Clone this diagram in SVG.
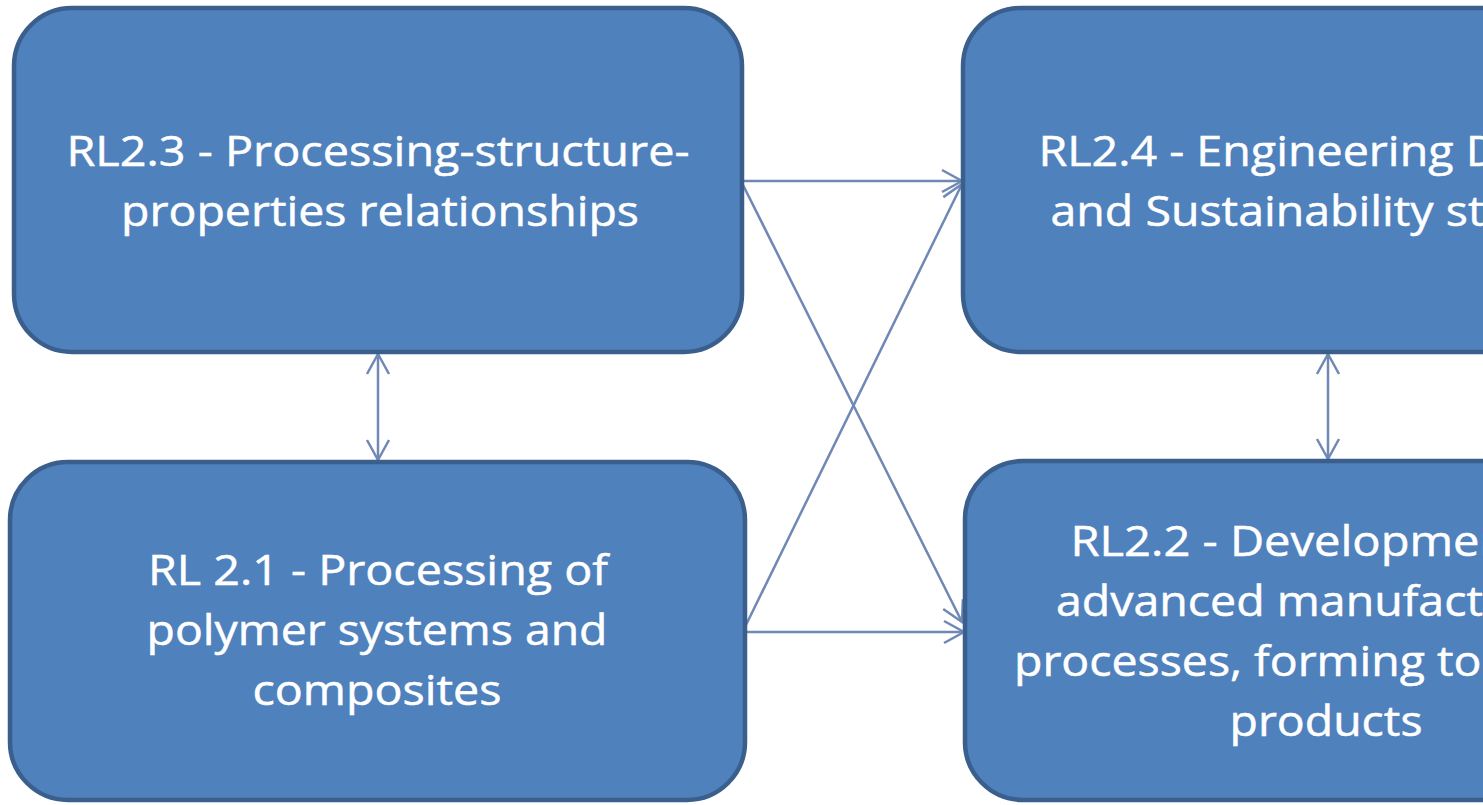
<svg xmlns="http://www.w3.org/2000/svg" width="1483" height="805" viewBox="0 0 1483 805">
<style>
.box{fill:#4f81bd;stroke:#3a5f8d;stroke-width:4.5}
.lbl{font-family:"Open Sans","Liberation Sans",sans-serif;font-size:42px;fill:#ffffff;stroke:#ffffff;stroke-width:0.5;text-anchor:middle}
.con{stroke:#6f88b4;stroke-width:2.5;fill:none}
</style>
<defs>
<marker id="arr" markerUnits="userSpaceOnUse" markerWidth="30" markerHeight="30" viewBox="-25 -15 30 30" refX="0" refY="0" orient="auto-start-reverse">
<path d="M-20,-11 L0,0 L-20,11" fill="none" stroke="#6f88b4" stroke-width="2.5"/>
</marker>
</defs>
<rect width="1483" height="805" fill="#ffffff"/>
<g id="connectors">
<line class="con" x1="742" y1="181" x2="962" y2="181" marker-end="url(#arr)"/>
<line class="con" x1="742" y1="183" x2="962" y2="622" marker-end="url(#arr)"/>
<line class="con" x1="745" y1="627" x2="962" y2="184" marker-end="url(#arr)"/>
<line class="con" x1="745" y1="632" x2="964" y2="632" marker-end="url(#arr)"/>
<line class="con" x1="378" y1="354" x2="378" y2="460" marker-start="url(#arr)" marker-end="url(#arr)"/>
<line class="con" x1="1328" y1="354" x2="1328" y2="459" marker-start="url(#arr)" marker-end="url(#arr)"/>
</g>
<g id="rl23">
<rect class="box" x="14" y="8" width="728" height="344" rx="58" ry="58"/>
<text class="lbl" x="378" y="166" textLength="623" lengthAdjust="spacingAndGlyphs">RL2.3 - Processing-structure-</text>
<text class="lbl" x="380" y="226" textLength="518" lengthAdjust="spacingAndGlyphs">properties relationships</text>
</g>
<g id="rl21">
<rect class="box" x="10" y="462" width="735" height="338" rx="58" ry="58"/>
<text class="lbl" x="378" y="585" textLength="460" lengthAdjust="spacingAndGlyphs">RL 2.1 - Processing of</text>
<text class="lbl" x="377" y="645" textLength="461" lengthAdjust="spacingAndGlyphs">polymer systems and</text>
<text class="lbl" x="377" y="705" textLength="249" lengthAdjust="spacingAndGlyphs">composites</text>
</g>
<g id="rl24">
<rect class="box" x="963" y="8" width="728" height="344" rx="58" ry="58"/>
<text class="lbl" x="1326" y="166" textLength="575" lengthAdjust="spacingAndGlyphs">RL2.4 - Engineering Design</text>
<text class="lbl" x="1326" y="226" textLength="551" lengthAdjust="spacingAndGlyphs">and Sustainability studies</text>
</g>
<g id="rl22">
<rect class="box" x="965" y="461" width="728" height="339" rx="58" ry="58"/>
<text class="lbl" x="1326" y="556" textLength="511" lengthAdjust="spacingAndGlyphs">RL2.2 - Development of</text>
<text class="lbl" x="1326" y="616" textLength="540" lengthAdjust="spacingAndGlyphs">advanced manufacturing</text>
<text class="lbl" x="1326" y="676" textLength="624" lengthAdjust="spacingAndGlyphs">processes, forming tools and</text>
<text class="lbl" x="1326" y="736" textLength="193" lengthAdjust="spacingAndGlyphs">products</text>
</g>
</svg>
